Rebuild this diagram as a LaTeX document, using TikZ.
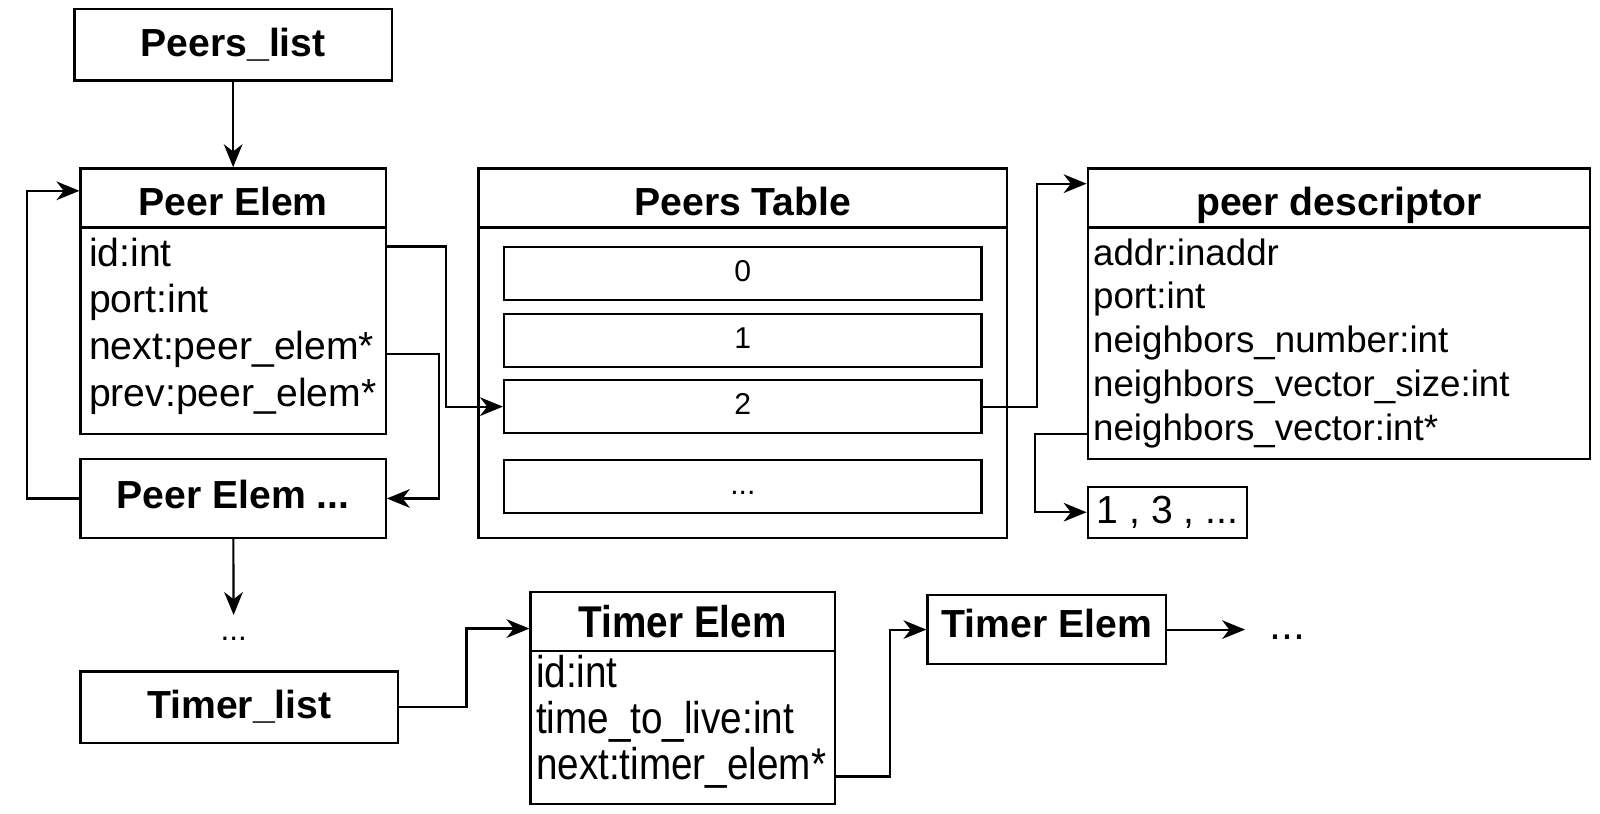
\documentclass[tikz,border=0pt]{standalone}
\usepackage{fontspec}
\setmainfont{Liberation Sans}
\newfontfamily\condfont[FakeStretch=0.87]{Liberation Sans}
\usetikzlibrary{arrows.meta}

\begin{document}
\begin{tikzpicture}[
    box/.style={draw, line width=1.6pt, inner sep=0pt},
    head/.style={box, font=\fontsize{27.3}{32}\selectfont\bfseries},
    ctitle/.style={head, text height=24pt, text depth=0pt},
    field/.style={anchor=base west, inner sep=0pt, font=\fontsize{27.3}{32}\selectfont},
    pdfield/.style={field, font=\fontsize{25.6}{30}\selectfont},
    tefield/.style={field, font=\condfont\fontsize{31}{36}\selectfont},
    cell/.style={box, minimum width=11.7cm, minimum height=1.3cm, text height=15pt, text depth=4pt, font=\fontsize{21}{25}\selectfont},
    link/.style={line width=1.5pt, -{Stealth[length=16pt, width=13pt, inset=5pt]}}
]
    \useasboundingbox (0,0) rectangle (39.2,-19.925);

    % Peers list and its elements
    \node[head, minimum width=7.775cm, minimum height=1.75cm] (plist) at (5.7125,-1.1) {Peers\_list};
    \node[ctitle, minimum width=7.475cm, minimum height=1.45cm] (pe) at (5.7125,-4.85) {Peer Elem};
    \node[box, minimum width=7.475cm, minimum height=5.05cm] (pe-body) at (5.7125,-8.1) {};
    \node[field] (pe-id) at (2.175,-6.5175) {id:int};
    \node[field] (pe-port) at (2.175,-7.6675) {port:int};
    \node[field] (pe-next) at (2.175,-8.8175) {next:peer\_elem*};
    \node[field] (pe-prev) at (2.175,-9.9675) {prev:peer\_elem*};
    \node[head, text height=20pt, text depth=5.4pt, minimum width=7.475cm, minimum height=1.925cm] (pex) at (5.7125,-12.2125) {Peer Elem ...};
    \node[anchor=base, inner sep=0pt, text height=0.625cm, font=\fontsize{22}{26}\selectfont] (dots1) at (5.725,-15.7) {...};

    % Peers table
    \node[ctitle, minimum width=12.95cm, minimum height=1.45cm] (pt) at (18.2,-4.85) {Peers Table};
    \node[box, minimum width=12.95cm, minimum height=7.6cm] (pt-body) at (18.2,-9.375) {};
    \foreach \i/\y in {0/-6.7, 1/-8.3375, 2/-9.9625}
        \node[cell] (row\i) at (18.2,\y) {\i};
    \node[cell] (row3) at (18.2,-11.9125) {...};

    % Peer descriptor
    \node[ctitle, minimum width=12.3cm, minimum height=1.45cm] (pd) at (32.8,-4.85) {peer descriptor};
    \node[box, minimum width=12.3cm, minimum height=5.675cm] (pd-body) at (32.8,-8.4125) {};
    \node[pdfield] (pd-addr) at (26.775,-6.495) {addr:inaddr};
    \node[pdfield] (pd-port) at (26.775,-7.57) {port:int};
    \node[pdfield] (pd-num) at (26.775,-8.645) {neighbors\_number:int};
    \node[pdfield] (pd-size) at (26.775,-9.72) {neighbors\_vector\_size:int};
    \node[pdfield] (pd-vec) at (26.775,-10.795) {neighbors\_vector:int*};
    \node[box, minimum width=3.9cm, minimum height=1.25cm, font=\fontsize{27.3}{32}\selectfont] (nv) at (28.6,-12.55) {1 , 3 , ...};

    % Timer list and its elements
    \node[head, minimum width=7.775cm, minimum height=1.75cm] (tlist) at (5.8625,-17.325) {Timer\_list};
    \node[box, minimum width=7.45cm, minimum height=1.45cm, font=\condfont\fontsize{31}{36}\selectfont\bfseries] (te) at (16.725,-15.225) {Timer Elem};
    \node[box, minimum width=7.45cm, minimum height=3.75cm] (te-body) at (16.725,-17.825) {};
    \node[tefield] (te-id) at (13.125,-16.85) {id:int};
    \node[tefield] (te-ttl) at (13.125,-17.975) {time\_to\_live:int};
    \node[tefield] (te-next) at (13.125,-19.1) {next:timer\_elem*};
    \node[head, text height=20pt, text depth=9pt, minimum width=5.85cm, minimum height=1.7cm] (te2) at (25.65,-15.425) {Timer Elem};
    \node[anchor=base, inner ysep=0pt, inner xsep=0.6cm, font=\fontsize{30}{35}\selectfont] (dots2) at (31.55,-15.675) {...};

    % Connectors
    \draw[link] (plist) -- (pe);
    \draw[link] (pex.west) -- ++(-1.275,0) |- ([yshift=0.175cm]pe.west);
    \draw[link] ([yshift=0.15cm]pe-next.base west -| pe-body.east) -- ++(1.275,0) |- (pex.east);
    \draw[link] ([yshift=0.48cm]pe-id.base west -| pe-body.east) -- ++(1.45,0) |- (row2.west);
    \draw[link] (pex) -- (dots1);
    \draw[link] (row2.east) -- ++(1.325,0) |- ([yshift=0.35cm]pd.west);
    \draw[link] ([yshift=0.17cm]pd-vec.base west -| pd-body.west) -- ++(-1.275,0) |- (nv.west);
    \draw[link] (tlist.east) -- ++(1.65,0) |- ([yshift=-0.175cm]te.west);
    \draw[link] ([yshift=0.075cm]te-next.base west -| te-body.east) -- ++(1.325,0) |- (te2.west);
    \draw[link] (te2.east) -- (te2.east -| dots2.west);
\end{tikzpicture}
\end{document}
